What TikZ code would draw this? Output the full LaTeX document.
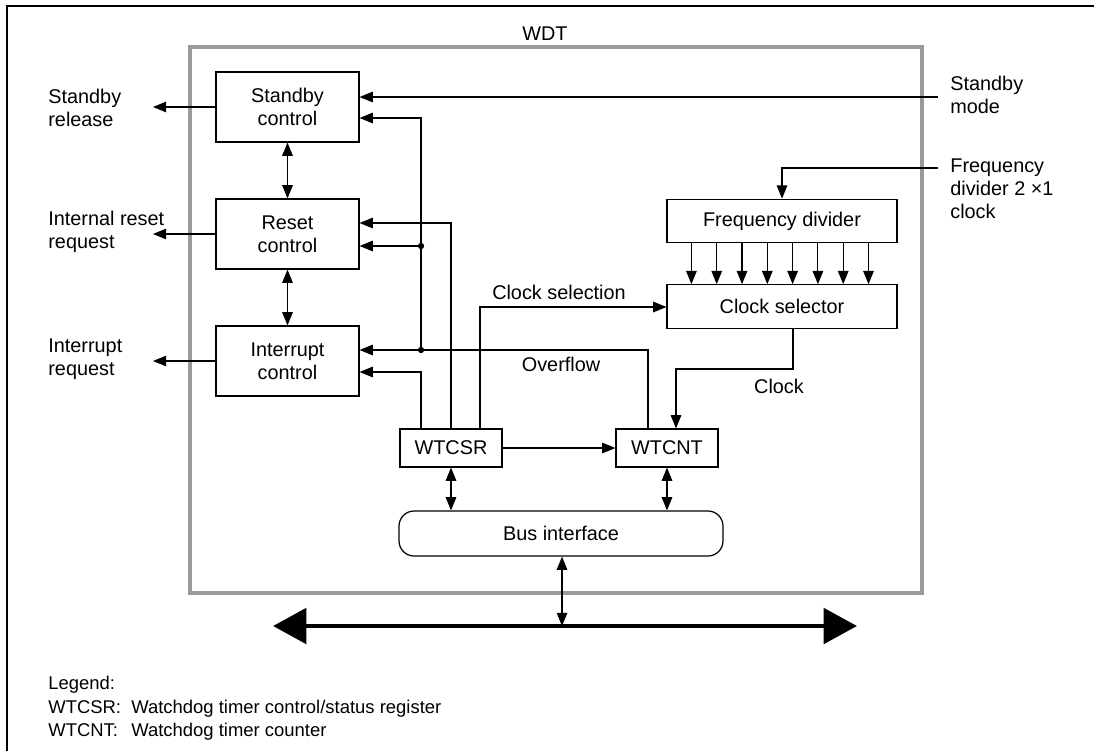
\documentclass[tikz,border=0pt]{standalone}
\usepackage{fontspec}
\setmainfont{Liberation Sans}
\usetikzlibrary{arrows.meta, calc, positioning}
\definecolor{wdtgray}{HTML}{9A9A9C}
\tikzset{
	blockbox/.style={draw, line width=0.7pt, align=center, inner sep=0pt, font=\fontsize{11.3}{13}\selectfont}
}
\tikzset{
	ctrlbox/.style={blockbox, minimum width=2.86cm, minimum height=1.4cm},
	regbox/.style={blockbox, minimum width=2.04cm, minimum height=0.76cm},
	divbox/.style={blockbox, minimum width=4.6cm, minimum height=0.87cm}
}
\tikzset{
	sig/.style={line width=0.6pt, -{Triangle[length=7.5pt,width=6pt]}},
	dsig/.style={line width=0.6pt, {Triangle[length=7.5pt,width=6pt]}-{Triangle[length=7.5pt,width=6pt]}},
	busarrow/.style={line width=2.8pt, {Triangle[length=19pt,width=20pt]}-{Triangle[length=19pt,width=20pt]}},
	labeltext/.style={font=\fontsize{11.3}{13}\selectfont, align=left, inner sep=0pt},
	legendtext/.style={font=\fontsize{10.5}{12.5}\selectfont, inner sep=0pt, anchor=base west}
}

\begin{document}
\begin{tikzpicture}[x=0.02cm, y=-0.02cm]
      \useasboundingbox (0,0) rectangle (1094,751);
      % page frame (top and left only)
      \draw[line width=1.2pt] (7,751) -- (7,6) -- (1094,6);
      % WDT module outline
      \draw[wdtgray, line width=2.5pt] (190,47) rectangle (922,593);
      \node[labeltext] (wdt) at (545,34) {WDT};
      % control blocks
      \node[ctrlbox] (stby) at (287.5,107) {Standby\\control};
      \node[ctrlbox] (rst) at (287.5,234) {Reset\\control};
      \node[ctrlbox] (intr) at (287.5,361) {Interrupt\\control};
      % clock path
      \node[divbox] (fdiv) at (782,221) {Frequency divider};
      \node[divbox] (csel) at (782,306.5) {Clock selector};
      % registers and bus interface
      \node[regbox] (wtcsr) at (451,448) {WTCSR};
      \node[regbox] (wtcnt) at (667,448) {WTCNT};
      \node[blockbox, rounded corners=0.3cm, minimum width=6.48cm, minimum height=0.9cm] (bus) at (561,533.5) {Bus interface};
      % free ends and wire corners
      \coordinate (relout) at (153,107);
      \coordinate (rstout) at (153,234);
      \coordinate (intout) at (153,361);
      \coordinate (modein) at (938,97);
      \coordinate (clkin) at (938,168);
      \coordinate (clkturn) at (782,168);
      \coordinate (ovfturn) at (648,350);
      \coordinate (ovfdot) at (421,350);
      \coordinate (stbyturn) at (421,118);
      \coordinate (rstdot) at (421,246);
      \coordinate (rstturn) at (451,223);
      \coordinate (intturn) at (421,372);
      \coordinate (selturn) at (480,307);
      \coordinate (clkA) at (793,369);
      \coordinate (clkB) at (676,369);
      \coordinate (busjoin) at (562,626);
      \coordinate (busL) at (273,626);
      \coordinate (busR) at (857,626);
      % outputs on the left
      \draw[sig] (stby.west) -- (relout);
      \draw[sig] (rst.west) -- (rstout);
      \draw[sig] (intr.west) -- (intout);
      \draw[dsig] (stby) -- (rst);
      \draw[dsig] (rst) -- (intr);
      \node[labeltext, anchor=west] (lrel) at (48,108) {Standby\\release};
      \node[labeltext, anchor=west] (lrst) at (48,232) {Internal reset\\request};
      \node[labeltext, anchor=west] (lint) at (48,359) {Interrupt\\request};
      % inputs on the right
      \draw[sig] (modein) -- (modein -| stby.east);
      \draw[sig] (clkin) -- (clkturn) -- (fdiv.north);
      \node[labeltext, anchor=west] (lmode) at (950,95) {Standby\\mode};
      \node[labeltext, anchor=west] (lclkin) at (950,189) {Frequency\\divider 2 ×1\\clock};
      % divided clocks
      \foreach \i in {0,...,7} {
        \draw[sig] ($(fdiv.south west)+(25+25.3*\i,0)$) -- ($(csel.north west)+(25+25.3*\i,0)$);
      }
      % overflow
      \draw[sig] (wtcnt.north -| ovfturn) -- (ovfturn) -- (intr.east |- ovfturn);
      \draw[sig] (ovfdot) -- (stbyturn) -- (stby.east |- stbyturn);
      \draw[sig] (rstdot) -- (rst.east |- rstdot);
      \fill (ovfdot) circle (1.8pt);
      \fill (rstdot) circle (1.8pt);
      \node[labeltext] (lovf) at (561,364) {Overflow};
      % WTCSR outputs
      \draw[sig] (wtcsr.north -| intturn) -- (intturn) -- (intr.east |- intturn);
      \draw[sig] (wtcsr.north -| rstturn) -- (rstturn) -- (rst.east |- rstturn);
      \draw[sig] (wtcsr.north -| selturn) -- (selturn) -- (csel.west |- selturn);
      \node[labeltext] (lsel) at (559,292) {Clock selection};
      \draw[sig] (wtcsr) -- (wtcnt);
      % counter clock
      \draw[sig] (csel.south -| clkA) -- (clkA) -- (clkB) -- (wtcnt.north -| clkB);
      \node[labeltext] (lclk) at (779,386) {Clock};
      % bus
      \draw[dsig] (wtcsr.south) -- (bus.north -| wtcsr.south);
      \draw[dsig] (wtcnt.south) -- (bus.north -| wtcnt.south);
      \draw[dsig] (bus.south -| busjoin) -- (busjoin);
      \draw[busarrow] (busL) -- (busR);
      % legend
      \node[legendtext] (leg) at (48,689) {Legend:};
      \node[legendtext] (legcsr) at (48,713) {\makebox[1.66cm][l]{WTCSR:}Watchdog timer control/status register};
      \node[legendtext] (legcnt) at (48,736) {\makebox[1.66cm][l]{WTCNT:}Watchdog timer counter};
    \end{tikzpicture}
\end{document}
